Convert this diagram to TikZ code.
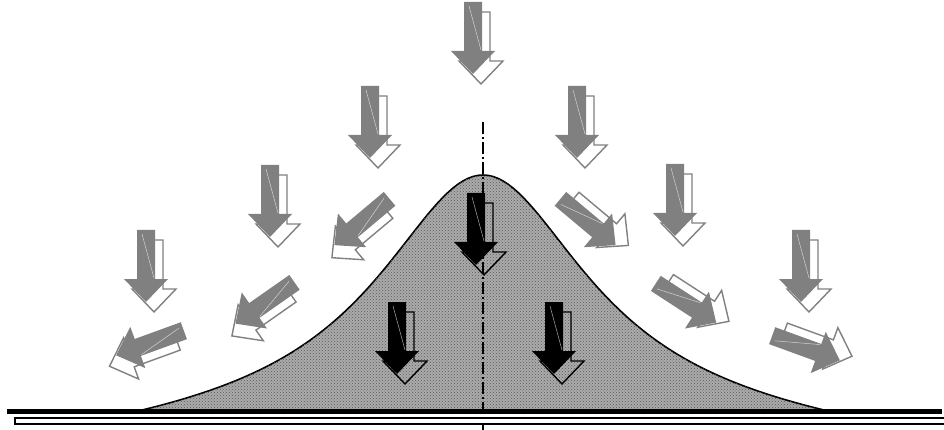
\documentclass[tikz,border=0pt]{standalone}
\usetikzlibrary{patterns}
\definecolor{arrowgray}{gray}{0.5}
\tikzset{
  curvefill/.style={fill=black!33, draw=black, line width=1.6},
  curvedots/.style={pattern=crosshatch dots, pattern color=black!65},
  axisline/.style={black, line width=1.3, dash pattern=on 12 off 3 on 2 off 3},
  groundbar/.style={fill=black},
  groundrail/.style={draw=black, line width=1.5, fill=white},
}
% 3D block arrow: front face filled, back face outlined and shifted.
% #1,#2 centre, #3 rotation, #4 colour, #5 scale
\newcommand{\flowarrow}[5]{%
  \begin{scope}[shift={(#1,#2)}, rotate=#3, scale=#5]
    \draw[#4, line width=1.4, line join=miter]
      (-1,-26) -- (17,-26) -- (17,23) -- (30,23) -- (8,46) -- (-14,23) -- (-1,23) -- cycle;
    \fill[#4]
      (-9,-36) -- (9,-36) -- (9,13) -- (22,13) -- (0,36) -- (-22,13) -- (-9,13) -- cycle;
    \draw[white!65!#4, line width=0.5] (-4,-32) -- (8,12);
  \end{scope}}
% profile height above the ground at distance #1 from the axis
\newcommand{\profile}[1]{236/(1+((#1)/125)*((#1)/125))*(1-(abs(#1)/345)*(abs(#1)/345)*(abs(#1)/345))}
\begin{document}
\begin{tikzpicture}[x=1pt, y=-1pt]
  \useasboundingbox (0,0) rectangle (944,430);

  % falling arrows above the curve
  \flowarrow{473}{38}{0}{arrowgray}{1}
  \flowarrow{370}{122}{0}{arrowgray}{1}
  \flowarrow{577}{122}{0}{arrowgray}{1}
  \flowarrow{270}{201}{0}{arrowgray}{1}
  \flowarrow{675}{200}{0}{arrowgray}{1}
  \flowarrow{146}{266}{0}{arrowgray}{1}
  \flowarrow{801}{266}{0}{arrowgray}{1}

  % oblique arrows along the flanks
  \flowarrow{362}{222}{-50}{arrowgray}{1}
  \flowarrow{265}{303}{-55}{arrowgray}{1}
  \flowarrow{150}{343}{-70}{arrowgray}{1}
  \flowarrow{588}{222}{50}{arrowgray}{1}
  \flowarrow{686}{303}{57}{arrowgray}{1}
  \flowarrow{806}{348}{70}{arrowgray}{1}

  % bell-shaped profile
  \path[curvefill] plot[domain=-345:345, samples=139]
    ({483+\x}, {411-\profile{\x}}) -- cycle;
  \path[curvedots] plot[domain=-345:345, samples=139]
    ({483+\x}, {411-\profile{\x}}) -- cycle;

  % symmetry axis
  \coordinate (axtop) at (483,122);
  \coordinate (axbot) at (483,430);
  \draw[axisline] (axtop) -- (axbot);

  % arrows inside the profile
  \flowarrow{476}{229}{0}{black}{1}
  \flowarrow{397}{338}{0}{black}{1}
  \flowarrow{554}{338}{0}{black}{1}

  % ground
  \fill[groundbar] (7,409) rectangle (942,414);
  \draw[groundrail] (15,418) rectangle (952,424);
\end{tikzpicture}
\end{document}
